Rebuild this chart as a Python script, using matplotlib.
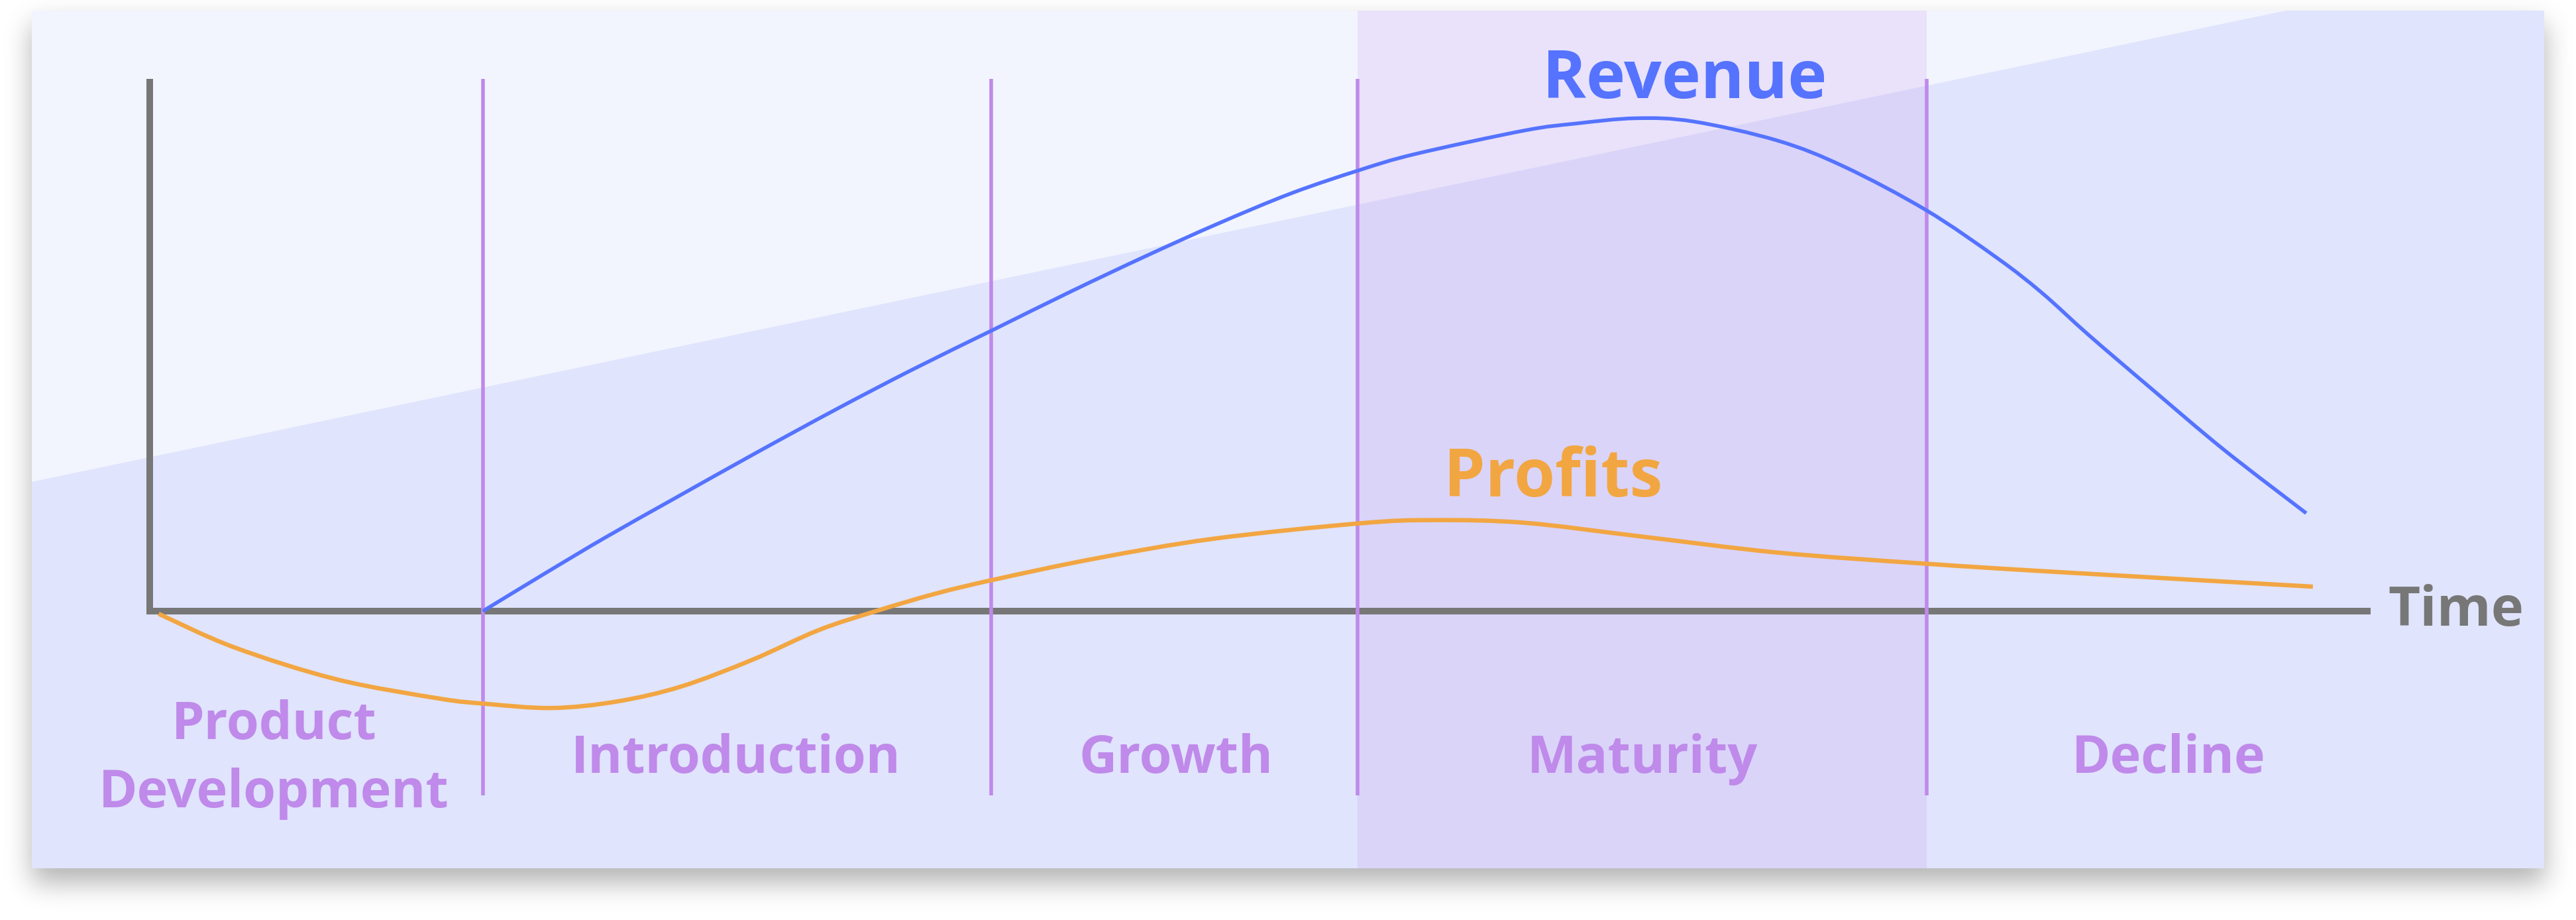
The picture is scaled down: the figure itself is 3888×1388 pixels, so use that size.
"""
Product life cycle chart: revenue and profits over the five stages.
"""

import numpy as np
import matplotlib.pyplot as plt
from matplotlib.patches import Rectangle, Polygon, PathPatch
from matplotlib.path import Path

# Output size
W, H, DPI = 3888, 1388, 100

# Data (time axis runs 0..100, value axis 0..100 at the top of the y-axis)
stage_names = ["Product\nDevelopment", "Introduction", "Growth", "Maturity", "Decline"]
stage_bounds = [15.0, 37.9, 54.4, 80.0]
stage_label_x = [5.6, 26.4, 46.2, 67.2, 90.9]

revenue_t = [15.0, 17.8, 20.5, 23.6, 27.2, 30.9, 34.4, 38.0, 41.5, 44.9, 48.1,
             51.4, 54.5, 57.0, 61.9, 64.2, 66.9, 69.5, 73.3, 76.3, 80.0, 83.2,
             85.2, 87.3, 90.1, 93.4, 97.1]
revenue_v = [0.0, 7.1, 13.8, 21.1, 29.5, 37.9, 45.5, 52.9, 60.1, 66.8, 72.8,
             78.5, 82.9, 85.9, 90.3, 91.6, 92.6, 92.0, 88.4, 83.5, 75.3, 66.3,
             59.8, 51.9, 41.9, 30.3, 18.4]

profit_t = [0.4, 3.8, 8.4, 13.0, 15.1, 18.1, 21.0, 23.9, 27.1, 30.1, 32.7,
            35.4, 38.0, 42.6, 47.9, 54.5, 57.8, 61.9, 67.2, 73.3, 80.0, 85.7,
            97.4]
profit_v = [-0.5, -6.8, -12.8, -16.4, -17.4, -18.2, -17.0, -14.2, -9.2, -3.6,
            0.0, 3.3, 5.9, 9.9, 13.6, 16.5, 17.1, 16.6, 14.0, 11.0, 8.9, 7.4,
            4.6]

# Colours
LIGHT_BG = "#F2F5FE"
DARK_BG = "#E0E4FD"
PURPLE = "#BF8AEA"
BLUE = "#5573FF"
ORANGE = "#F2A642"
GREY = "#777777"

# Layout in pixels: origin of the chart and pixels per data unit
ORIGIN_X, ORIGIN_Y = 226, 922
PX_PER_T, PX_PER_V = 33.52, 8.03
CARD = (48, 16, 3840, 1310)

FONT = "Open Sans"


def card_shadow(ax, box, offset=22, sigma=20, strength=0.3, step=4):
    """Soft drop shadow under the card, blurred with a gaussian kernel"""
    x0, y0, x1, y1 = box
    h, w = H // step, W // step
    mask = np.zeros((h, w))
    mask[(y0 + offset) // step:(y1 + offset) // step, x0 // step:x1 // step] = 1.0
    r = int(3 * sigma / step)
    k = np.exp(-0.5 * (np.arange(-r, r + 1) * step / sigma) ** 2)
    k /= k.sum()
    mask = np.apply_along_axis(lambda v: np.convolve(v, k, mode="same"), 0, mask)
    mask = np.apply_along_axis(lambda v: np.convolve(v, k, mode="same"), 1, mask)
    rgba = np.zeros((h, w, 4))
    rgba[..., 3] = mask * strength
    ax.imshow(rgba, extent=(0, W, H, 0), interpolation="bilinear", aspect="auto", zorder=0)


def smooth_curve(ax, xs, ys, **kw):
    """Draw a curve through the points as Catmull-Rom bezier segments"""
    p = np.column_stack([xs, ys]).astype(float)
    ext = np.vstack([p[0], p, p[-1]])
    verts = [p[0]]
    codes = [Path.MOVETO]
    for i in range(1, len(ext) - 2):
        c1 = ext[i] + (ext[i + 1] - ext[i - 1]) / 6
        c2 = ext[i + 1] - (ext[i + 2] - ext[i]) / 6
        verts += [c1, c2, ext[i + 1]]
        codes += [Path.CURVE4] * 3
    ax.add_patch(PathPatch(Path(verts, codes), fill=False, capstyle="butt", **kw))


fig = plt.figure(figsize=(W / DPI, H / DPI), dpi=DPI)
fig.patch.set_facecolor("white")

# Background card in pixel space
bg = fig.add_axes([0, 0, 1, 1])
card_shadow(bg, CARD)
x0, y0, x1, y1 = CARD
bg.add_patch(Rectangle((x0, y0), x1 - x0, y1 - y0, color=DARK_BG, lw=0, zorder=1))
bg.add_patch(Polygon([(x0, y0), (3450, y0), (x0, 727)], closed=True, color=LIGHT_BG, lw=0, zorder=2))
bg.set_xlim(0, W)
bg.set_ylim(H, 0)
bg.axis("off")

# Chart axes: data coords mapped onto the card
ax = fig.add_axes([0, 0, 1, 1])
ax.patch.set_alpha(0)
ax.set_xlim(-ORIGIN_X / PX_PER_T, (W - ORIGIN_X) / PX_PER_T)
ax.set_ylim(-(H - ORIGIN_Y) / PX_PER_V, ORIGIN_Y / PX_PER_V)
ax.axis("off")

# Maturity band covers the whole card height
ax.axvspan(stage_bounds[2], stage_bounds[3], ymin=(H - y1) / H, ymax=(H - y0) / H,
           color=PURPLE, alpha=0.17, lw=0, zorder=1)

# Axes lines
ax.plot([0, 0, 100], [100, 0, 0], color=GREY, lw=7.2,
        solid_joinstyle="miter", solid_capstyle="butt", zorder=2)
ax.text(100.8, -2.7, "Time", color=GREY, fontsize=60, fontweight="bold",
        family=FONT, ha="left", va="baseline", zorder=6)

# Stage boundaries
ax.vlines(stage_bounds, -34.6, 100, color=PURPLE, lw=4, zorder=3)

# Curves
smooth_curve(ax, profit_t, profit_v, edgecolor=ORANGE, lw=4.7, zorder=4)
smooth_curve(ax, revenue_t, revenue_v, edgecolor=BLUE, lw=4.0, zorder=5)

ax.text(69.1, 96.4, "Revenue", color=BLUE, fontsize=72, fontweight="bold",
        family=FONT, ha="center", va="baseline", zorder=6)
ax.text(63.2, 21.5, "Profits", color=ORANGE, fontsize=72, fontweight="bold",
        family=FONT, ha="center", va="baseline", zorder=6)

# Stage labels
line_step = 12.8
for name, x in zip(stage_names, stage_label_x):
    lines = name.split("\n")
    n = len(lines)
    for i, line in enumerate(lines):
        y = -30.4 + (n - 1) / 2 * line_step - i * line_step
        ax.text(x, y, line, color=PURPLE, fontsize=57, fontweight="bold",
                family=FONT, ha="center", va="baseline", zorder=6)

fig.savefig("out.png", dpi=DPI)
print("Saved: out.png")
